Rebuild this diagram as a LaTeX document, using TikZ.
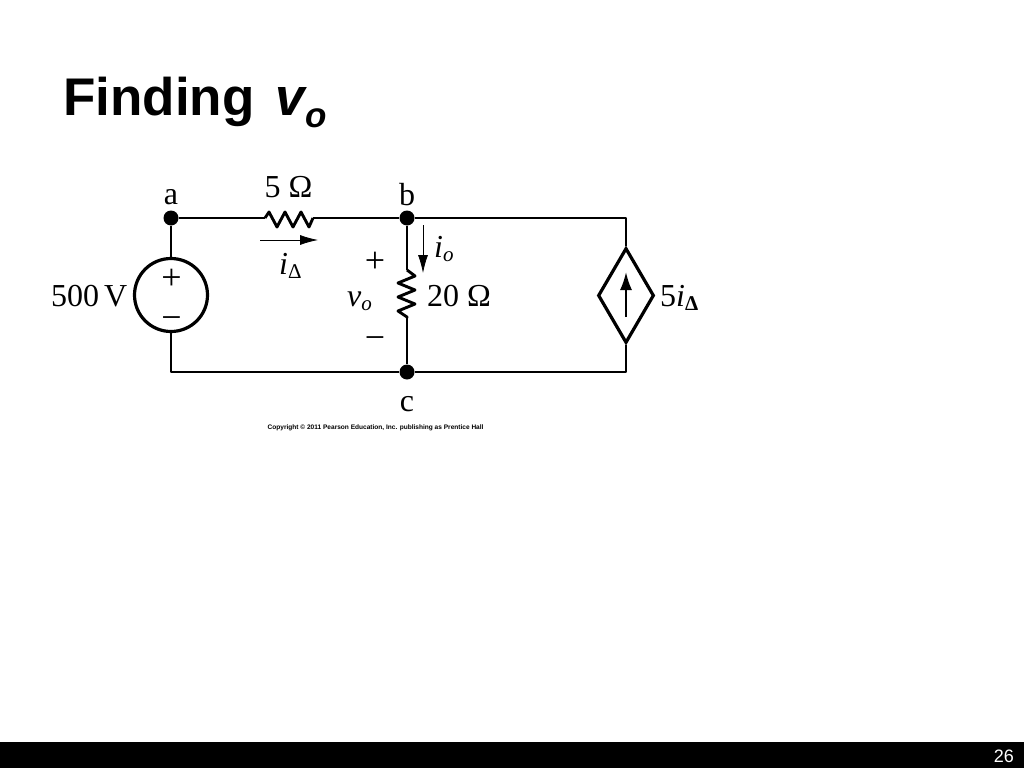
\documentclass[tikz,border=0pt]{standalone}
\usepackage{fontspec}
\usetikzlibrary{shapes.geometric,arrows.meta}
\setmainfont{Liberation Serif}
\newfontfamily\hfont{Liberation Sans}
\tikzset{
  wire/.style={line width=2.9pt,line join=round},
  dotnode/.style={circle,fill=black,inner sep=0pt,minimum size=15pt},
  srcnode/.style={circle,draw,line width=3.2pt,inner sep=0pt,minimum size=73pt},
  depnode/.style={diamond,draw,line width=3.2pt,inner sep=0pt,minimum width=56pt,minimum height=95pt},
  lbl/.style={inner sep=0pt,anchor=base,font=\fontsize{32}{32}\selectfont},
  sym/.style={inner sep=0pt,font=\fontsize{36}{36}\selectfont},
  thin arrow/.style={line width=0.8pt,-{Latex[length=18pt,width=10pt]}},
}
\begin{document}
\begin{tikzpicture}[x=1pt,y=-1pt]
\useasboundingbox (0,0) rectangle (1024,768);
\fill[white] (0,0) rectangle (1024,768);
\fill[black] (0,742) rectangle (1024,768);
\node[inner sep=0pt,anchor=base east,text=white,font=\hfont\fontsize{18}{18}\selectfont] (pg) at (1014,762) {26};
\node[inner sep=0pt,anchor=base west,font=\hfont\bfseries\fontsize{53}{53}\selectfont] (title) at (63,115) {Finding\hspace{21pt}\textit{v\raisebox{-12pt}{\fontsize{35}{35}\selectfont o}}};
% junctions and sources
\node[dotnode] (a) at (171,218) {};
\node[dotnode] (b) at (407,218) {};
\node[dotnode] (c) at (407,372) {};
\node[srcnode] (vs) at (171,295) {};
\node[depnode] (dep) at (626,295.5) {};
\coordinate (r1l) at (265,218);
\coordinate (r1r) at (313,218);
\coordinate (r2t) at (407,270);
\coordinate (r2b) at (407,318);
\coordinate (bl) at (171,372);
\coordinate (tr) at (626,218);
\coordinate (br) at (626,372);
% wires
\draw[wire] (a) -- (vs);
\draw[wire] (vs) -- (bl) -- (c);
\draw[wire] (a) -- (r1l);
\draw[wire] (r1l) -- ++(4,-6) -- ++(8,15) -- ++(8,-15) -- ++(8,15) -- ++(8,-15) -- ++(8,15) -- (r1r);
\draw[wire] (r1r) -- (b);
\draw[wire] (b) -- (r2t);
\draw[wire] (r2t) -- ++(8,6) -- ++(-17,7) -- ++(17,7) -- ++(-17,7) -- ++(17,7) -- ++(-17,7) -- ++(9,6) -- (r2b);
\draw[wire] (r2b) -- (c);
\draw[wire] (b) -- (tr) -- (dep.north);
\draw[wire] (dep.south) -- (br) -- (c);
% dependent source arrow
\coordinate (depb) at (626,317);
\coordinate (dept) at (626,272);
\draw[line width=2pt,-{Latex[length=18pt,width=12pt]}] (depb) -- (dept);
% current arrows
\coordinate (idl) at (260,240);
\coordinate (idr) at (318,240);
\coordinate (iot) at (423,225);
\coordinate (iob) at (423,273);
\draw[thin arrow] (idl) -- (idr);
\draw[thin arrow] (iot) -- (iob);
% labels
\node[lbl] (la) at (171,204) {a};
\node[lbl] (lb) at (407,205) {b};
\node[lbl] (lc) at (407,411) {c};
\node[lbl] (l5) at (288.5,197) {5 Ω};
\node[lbl,anchor=base west] (l500) at (51,306) {500\hspace{-3pt} V};
\node[lbl,anchor=base west] (l20) at (427,306) {20 Ω};
\node[lbl,anchor=base west] (l5i) at (660,306) {5\textit{i}\raisebox{-4pt}{\fontsize{21}{21}\selectfont\bfseries Δ}};
\node[lbl,anchor=base west] (lid) at (279,274) {\textit{i}\raisebox{-4pt}{\fontsize{21}{21}\selectfont Δ}};
\node[lbl,anchor=base west] (lio) at (434,257) {\textit{i}\raisebox{-4pt}{\fontsize{21}{21}\selectfont\textit{o}}};
\node[lbl,anchor=base west] (lvo) at (347,306) {\textit{v}\raisebox{-4pt}{\fontsize{21}{21}\selectfont\textit{o}}};
\node[sym] (vp) at (171.5,279) {+};
\node[sym] (vm) at (171.5,323) {−};
\node[sym] (op) at (375,262) {+};
\node[sym] (om) at (375,343) {−};
\node[inner sep=0pt,anchor=base west,font=\hfont\bfseries\fontsize{6.55}{6.55}\selectfont] (copy) at (267.5,429) {Copyright © 2011 Pearson Education, Inc. publishing as Prentice Hall};
\end{tikzpicture}
\end{document}
